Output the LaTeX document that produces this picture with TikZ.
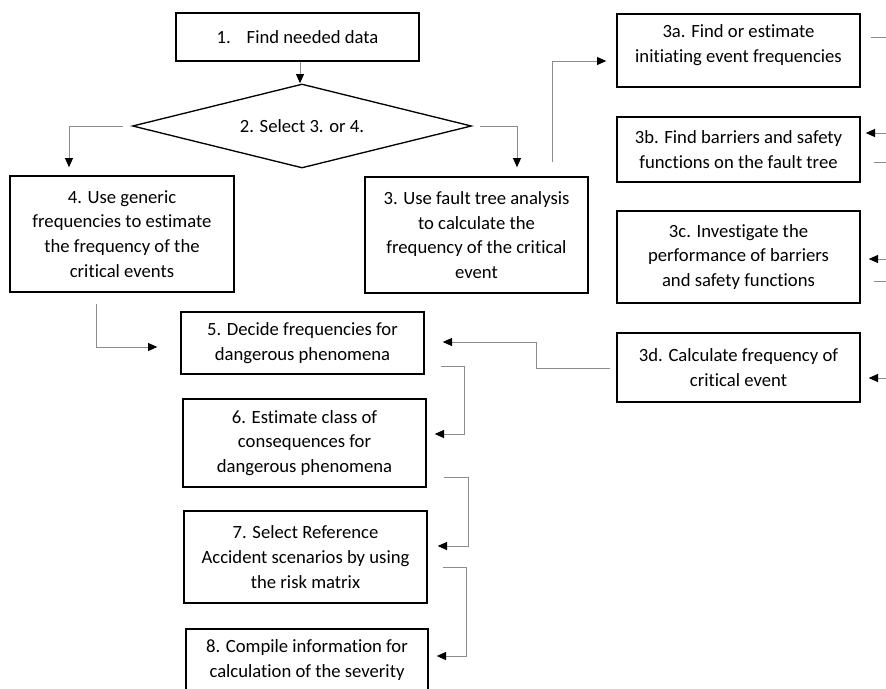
\documentclass[tikz,border=0pt]{standalone}
\usepackage{fontspec}
\setmainfont{Carlito}[Ligatures=NoCommon]
\usetikzlibrary{shapes.geometric,arrows.meta,calc}
\definecolor{connline}{HTML}{8C8C8C}

\begin{document}
\begin{tikzpicture}[x=0.75pt,y=-0.75pt,
  boxfont/.style={font=\fontsize{14}{18.6}\selectfont},
  sz/.style 2 args={minimum width=#1*0.75pt,minimum height=#2*0.75pt},
  stepbox/.style={draw=black,line width=1pt,align=center,inner sep=0pt,boxfont},
  decision/.style={diamond,aspect=4,draw=black,line width=1pt,inner sep=0pt,boxfont},
  conn/.style={draw=connline,line width=0.75pt},
  flow/.style={conn,-{Triangle[length=7pt,width=6pt,color=black]}}]
\useasboundingbox (0,0) rectangle (886,689);
\clip (0,0) rectangle (886,689);

% main column
\node[stepbox,sz={243}{48}] (b1) at (297.5,37) {1.\hspace{12pt}Find needed data};
\node[decision,sz={339}{84}] (dia) at (302,126) {2. Select 3. or 4.};
\node[stepbox,sz={224}{116}] (b4) at (122,234)
  {4. Use generic\\frequencies to estimate\\the frequency of the\\critical events};
\node[stepbox,sz={223}{116}] (b3) at (476.5,235)
  {3. Use fault tree analysis\\to calculate the\\frequency of the critical\\event};
\node[stepbox,sz={243}{62}] (b5) at (302.5,343)
  {5. Decide frequencies for\\dangerous phenomena};
\node[stepbox,sz={243}{88}] (b6) at (304.5,443)
  {6. Estimate class of\\consequences for\\dangerous phenomena};
\node[stepbox,sz={243}{92}] (b7) at (305.5,557)
  {7. Select Reference\\Accident scenarios by using\\the risk matrix};
\node[stepbox,sz={242}{62}] (b8) at (307,660)
  {8. Compile information for\\calculation of the severity};

% fault tree sub-steps (3a: text sits a little above the middle)
\node[stepbox,sz={243}{73}] (b3a) at (738.5,50.5)
  {3a. Find or estimate\\initiating event frequencies\rule[-10pt]{0pt}{10pt}};
\node[stepbox,sz={243}{65}] (b3b) at (738.5,149.5)
  {3b. Find barriers and safety\\functions on the fault tree};
\node[stepbox,sz={243}{92}] (b3c) at (738.5,257)
  {3c. Investigate the\\performance of barriers\\and safety functions};
\node[stepbox,sz={243}{69}] (b3d) at (738.5,367.5)
  {3d. Calculate frequency of\\critical event};

% connectors of the main flow
\draw[flow] ($(b1.south)+(2.5,0)$) -- ($(b1.south |- dia.north)+(2.5,0)$);
\draw[flow] ($(dia.west)+(-9,0)$) -| ($(b4.north)+(-53,-8)$);
\draw[flow] ($(dia.east)+(8,0)$) -| ($(b3.north)+(40.5,-9)$);
\draw[flow] ($(b3.north)+(75.5,-14)$) |- ($(b3a.west)+(-10,10.5)$);
\draw[flow] ($(b4.south)+(-26,11)$) |- ($(b5.west)+(-23,4)$);
\draw[flow] ($(b3d.west)+(-6,0.5)$) -- ++(-74,0) |- ($(b5.east)+(18,-1)$);
\draw[flow] ($(b5.east)+(16,23)$) -- ++(24,0) |- ($(b6.east)+(8,-9)$);
\draw[flow] ($(b6.east)+(17,34)$) -- ++(25,0) |- ($(b7.east)+(10,-11)$);
\draw[flow] ($(b7.east)+(15,10)$) -- ++(24,0) |- ($(b8.east)+(8,-4)$);

% connectors leaving at the right edge
\coordinate (r1) at (886,37);
\coordinate (r2) at (886,133);
\coordinate (r3) at (886,162);
\coordinate (r4) at (886,259);
\coordinate (r5) at (886,281);
\coordinate (r6) at (886,378);
\draw[conn] ($(b3a.east)+(10,-13.5)$) -- (r1);
\draw[flow] (r2) -- ($(b3b.east)+(5,-16.5)$);
\draw[conn] ($(b3b.east)+(13,12.5)$) -- (r3);
\draw[flow] (r4) -- ($(b3c.east)+(8,2)$);
\draw[conn] ($(b3c.east)+(13,24)$) -- (r5);
\draw[flow] (r6) -- ($(b3d.east)+(8,10.5)$);
\end{tikzpicture}
\end{document}
